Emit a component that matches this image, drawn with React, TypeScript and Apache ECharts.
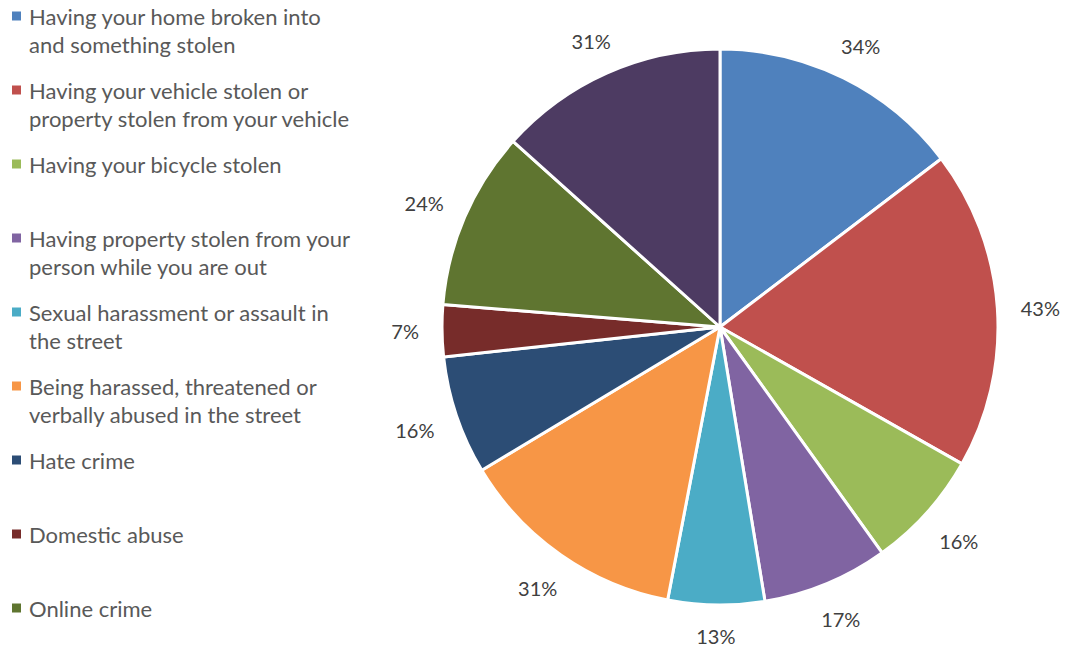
import React, { useEffect, useRef } from "react";
import * as echarts from "echarts";

const categories = [
  "Having your home broken into\nand something stolen",
  "Having your vehicle stolen or\nproperty stolen from your vehicle",
  "Having your bicycle stolen",
  "Having property stolen from your\nperson while you are out",
  "Sexual harassment or assault in\nthe street",
  "Being harassed, threatened or\nverbally abused in the street",
  "Hate crime",
  "Domestic abuse",
  "Online crime",
  "Other",
];
const values = [34, 43, 16, 17, 13, 31, 16, 7, 24, 31];
const legendCount = 9;
const colors = [
  "#4F81BD", "#C0504D", "#9BBB59", "#8064A2", "#4BACC6",
  "#F79646", "#2C4D75", "#772C2A", "#5F7530", "#4D3B62",
];

const FONT = "Lato";
const CX = 720;
const CY = 327;
const R = 278;
const LABEL_R = 301;

export default function App() {
  const ref = useRef<HTMLDivElement>(null);
  useEffect(() => {
    if (!ref.current) return;
    const chart = echarts.init(ref.current, undefined, { renderer: "svg" });
    const rich: Record<string, any> = {
      t: { fontFamily: FONT, fontSize: 22, color: "#595959", lineHeight: 28 },
      sp: { width: 8, height: 9, lineHeight: 28 },
      ind: { width: 17, height: 9, lineHeight: 28 },
    };
    colors.forEach((c, i) => {
      rich["s" + i] = { width: 9, height: 9, backgroundColor: c, lineHeight: 28 };
    });
    const total = values.reduce((a, b) => a + b, 0);
    const cum: number[] = [];
    values.reduce((acc, v) => {
      cum.push(acc);
      return acc + v;
    }, 0);
    const data = categories.map((name, i) => ({
      name,
      value: values[i],
      itemStyle: { color: colors[i] },
    }));
    chart.setOption({
      animation: false,
      color: colors,
      legend: {
        orient: "vertical",
        left: 7,
        top: 2,
        height: 700,
        padding: 0,
        icon: "none",
        itemWidth: 0,
        itemHeight: 9,
        itemGap: 18,
        selectedMode: false,
        data: categories.slice(0, legendCount),
        formatter: (name: string) => {
          const i = categories.indexOf(name);
          const lines = name.split("\n");
          const l1 = `{s${i}|}{sp|}{t|${lines[0]}}`;
          const l2 = lines[1] ? `{ind|}{t|${lines[1]}}` : `{ind|}`;
          return l1 + "\n" + l2;
        },
        textStyle: { rich, lineHeight: 28 },
      },
      series: [
        {
          type: "pie",
          center: [CX, CY],
          radius: [0, R],
          startAngle: 90,
          clockwise: true,
          data,
          label: {
            show: true,
            position: "inside",
            formatter: (p: any) => p.value + "%",
            fontFamily: FONT,
            fontSize: 20,
            lineHeight: 22,
            color: "#404040",
          },
          labelLine: { show: false },
          labelLayout: (p: any) => {
            const i = p.dataIndex;
            const th = ((cum[i] + values[i] / 2) / total) * Math.PI * 2;
            const ux = Math.sin(th);
            const uy = -Math.cos(th);
            const w = p.labelRect.width / 2;
            const h = p.labelRect.height / 2;
            const d = LABEL_R + w * Math.abs(ux) + h * 0.7 * Math.abs(uy);
            return { x: CX + ux * d, y: CY + uy * d + (uy < 0 ? 3 : 0) };
          },
          itemStyle: { borderColor: "#ffffff", borderWidth: 3 },
          emphasis: { disabled: true },
        },
      ],
    });
    return () => chart.dispose();
  }, []);
  return (
    <div
      ref={ref}
      style={{ position: "fixed", left: 0, top: 0, width: 1066, height: 649, background: "#fff" }}
    />
  );
}
